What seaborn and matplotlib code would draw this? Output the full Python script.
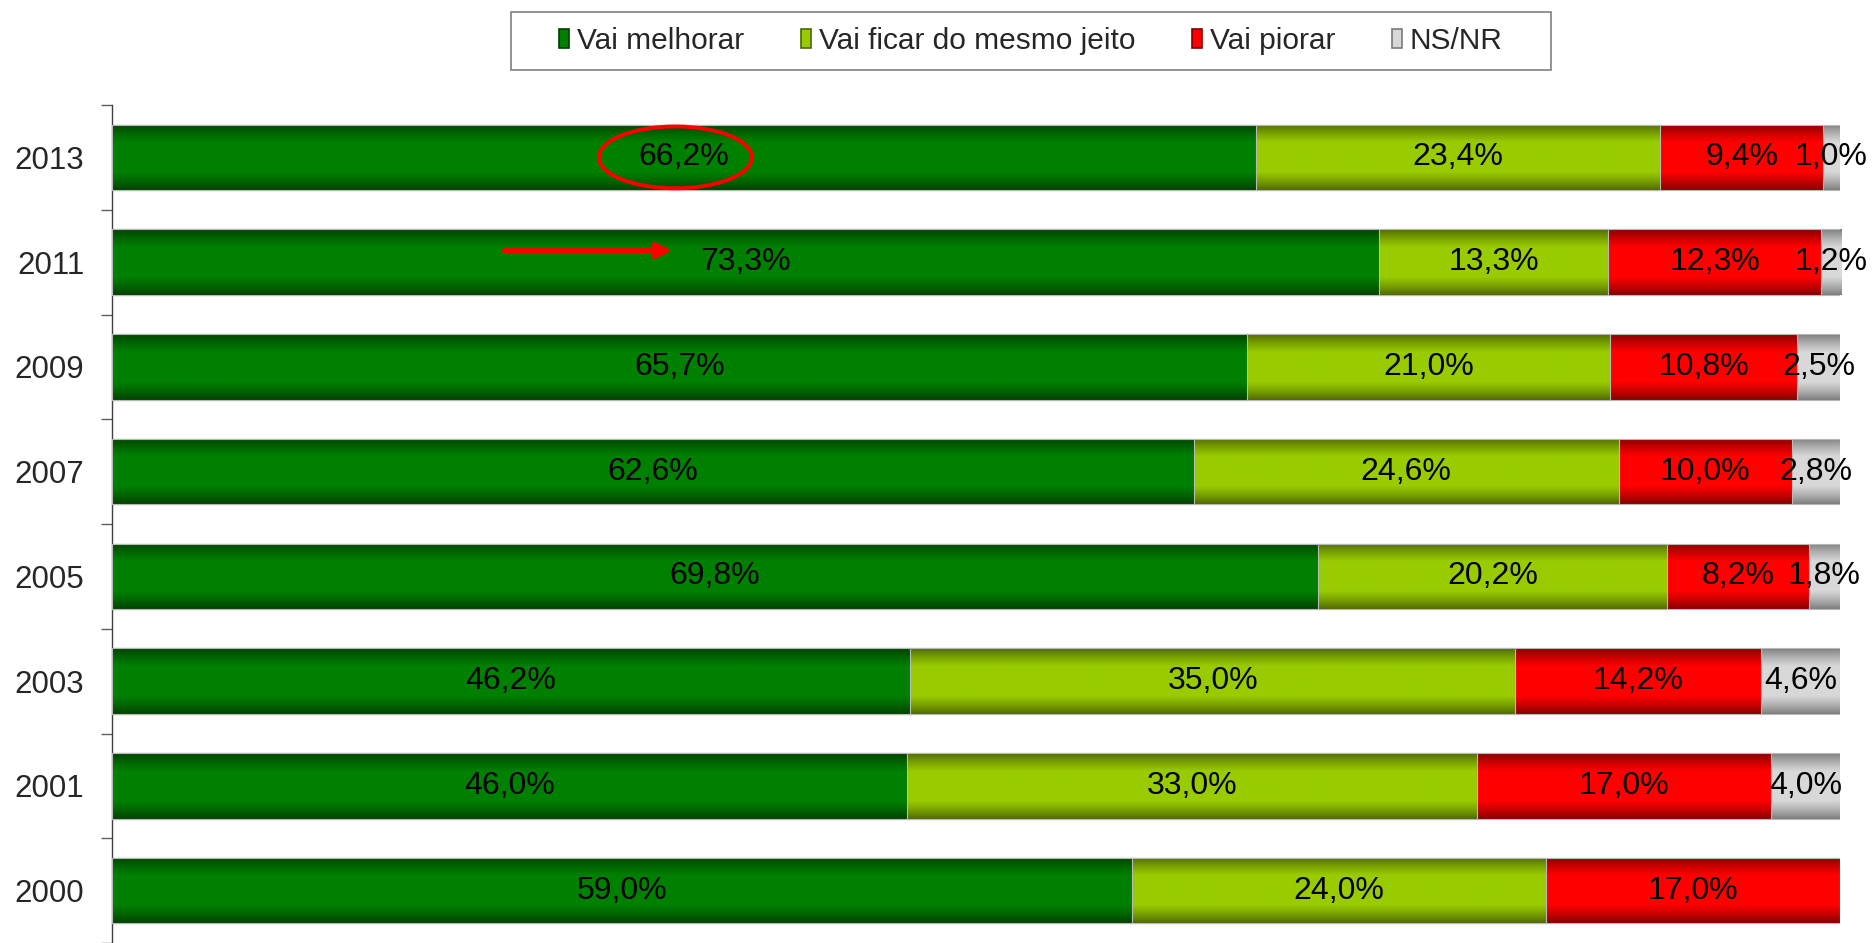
import numpy as np
import matplotlib
matplotlib.use("Agg")
import matplotlib.pyplot as plt
import seaborn as sns
from matplotlib.colors import LinearSegmentedColormap
from matplotlib.patches import Patch, Ellipse, Rectangle

# data
years = ['2013', '2011', '2009', '2007', '2005', '2003', '2001', '2000']
melhorar = [66.2, 73.3, 65.7, 62.6, 69.8, 46.2, 46.0, 59.0]
mesmo = [23.4, 13.3, 21.0, 24.6, 20.2, 35.0, 33.0, 24.0]
piorar = [9.4, 12.3, 10.8, 10.0, 8.2, 14.2, 17.0, 17.0]
nsnr = [1.0, 1.2, 2.5, 2.8, 1.8, 4.6, 4.0, 0.0]
series_names = ['Vai melhorar', 'Vai ficar do mesmo jeito', 'Vai piorar', 'NS/NR']

# (dark edge, bright middle) per series
colors = [('#004000', '#008000'), ('#4d6600', '#99cc00'),
          ('#800000', '#ff0000'), ('#7a7a7a', '#d8d8d8')]

sns.set_style('white')
plt.rcParams['font.family'] = ['Liberation Sans', 'DejaVu Sans']

fig = plt.figure(figsize=(18.74, 9.43), dpi=100)
ax = fig.add_axes([112 / 1874, 0.0, (1840 - 112) / 1874, 838 / 943])

series = [melhorar, mesmo, piorar, nsnr]
cums = np.cumsum(np.array(series), axis=0)

# vertical gradient profile: dark at top/bottom, bright band in the middle
t = np.linspace(0, 1, 128)
d = np.abs(2 * t - 1)
prof = np.clip((1 - d) / 0.55, 0, 1) ** 0.8
grad = np.tile(prof[:, None], (1, 2))

# draw from the total down so each layer covers the previous
for k in range(3, -1, -1):
    n_before = len(ax.patches)
    sns.barplot(x=cums[k], y=years, orient='h', color=colors[k][1],
                width=0.625, ax=ax)
    cmap = LinearSegmentedColormap.from_list('g%d' % k, colors[k])
    z = 2 + (3 - k) * 2
    for p in ax.patches[n_before:]:
        if p.get_width() <= 0:
            continue
        p.set_facecolor('none')
        p.set_edgecolor('#b8b8b8')
        p.set_linewidth(0.8)
        p.set_zorder(z + 0.5)
        x0, w = p.get_x(), p.get_width()
        y0, h = p.get_y(), p.get_height()
        im = ax.imshow(grad, extent=(x0, x0 + w, y0 + h, y0), cmap=cmap,
                       vmin=0, vmax=1, aspect='auto', interpolation='bilinear',
                       zorder=z)
        im.set_clip_path(p)

# value labels
for k, vals in enumerate(series):
    for i, v in enumerate(vals):
        if v <= 0:
            continue
        ax.text(cums[k][i] - v / 2, i, f"{v:.1f}".replace('.', ',') + '%',
                ha='center', va='center', fontsize=23, color='black', zorder=20)

ax.set_xlim(0, 100)
ax.set_ylim(7.5, -0.5)
ax.set_xticks([])
ax.set_xlabel('')
ax.set_ylabel('')
ax.set_yticks(range(len(years)))
ax.set_yticklabels(years, fontsize=22.5)
ax.set_yticks(np.arange(-0.5, len(years), 1), minor=True)
ax.tick_params(axis='y', which='major', length=0, pad=20)
ax.tick_params(axis='y', which='minor', length=8, width=1, color='#606060',
               direction='out', left=True)
for s in ['top', 'right', 'bottom']:
    ax.spines[s].set_visible(False)
ax.spines['left'].set_color('#404040')
ax.spines['left'].set_linewidth(1)

# annotations
ax.add_patch(Ellipse((32.6, 0.0), width=8.85, height=0.59, fill=False,
                     ec='#ff0000', lw=2.8, zorder=25))
ax.annotate('', xy=(32.4, 0.89), xytext=(22.7, 0.89),
            arrowprops=dict(arrowstyle='-|>', color='#ff0000', lw=3.5,
                            mutation_scale=22, shrinkA=0, shrinkB=0),
            zorder=25)

# legend
handles = [Patch(facecolor=c[1], edgecolor=c[0], linewidth=1.2) for c in colors]
fig.legend(handles, series_names, loc='center', bbox_to_anchor=(0.550, 0.957),
           ncol=4, frameon=False, fontsize=21.5, handlelength=0.35,
           handleheight=0.6, handletextpad=0.25, columnspacing=1.9)
fig.patches.append(Rectangle((511 / 1874, 1 - 70 / 943), 1040 / 1874, 58 / 943,
                             transform=fig.transFigure, fill=False,
                             ec='#808080', lw=1.2))

fig.savefig('out.png', dpi=100)
